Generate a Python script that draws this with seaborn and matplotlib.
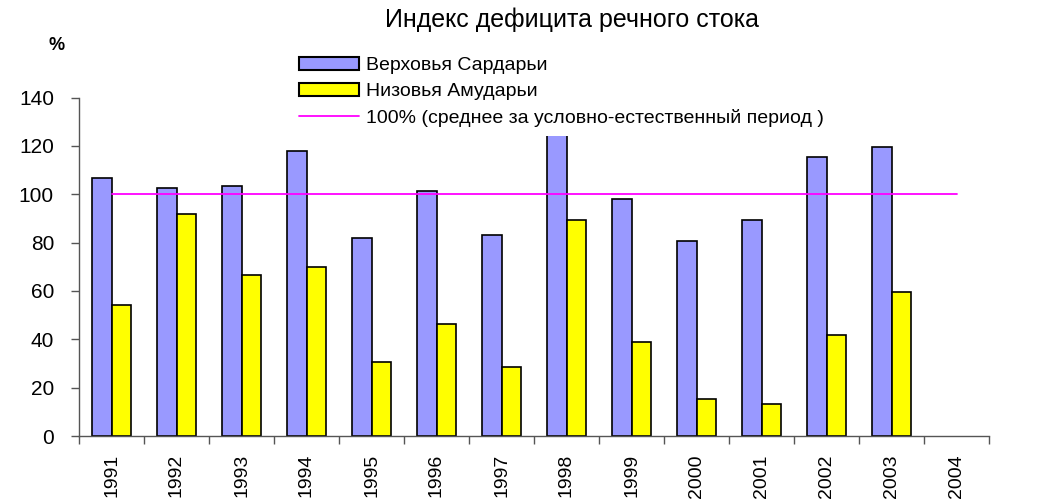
import numpy as np
import pandas as pd
import matplotlib
matplotlib.use("Agg")
import matplotlib.pyplot as plt
from matplotlib.patches import Patch
from matplotlib.lines import Line2D
from matplotlib.ticker import FixedLocator
import seaborn as sns

years = ["1991", "1992", "1993", "1994", "1995", "1996", "1997",
         "1998", "1999", "2000", "2001", "2002", "2003", "2004"]
syr_upper = [106.9, 102.7, 103.4, 118.0, 81.9, 101.4, 83.3,
             135.0, 97.9, 80.5, 89.5, 115.3, 119.4, np.nan]
amu_lower = [54.1, 91.7, 66.6, 70.0, 30.5, 46.5, 28.4,
             89.5, 38.9, 15.2, 13.2, 41.7, 59.7, np.nan]
norm_line = [100] * 14
series_names = ["Верховья Сардарьи", "Низовья Амударьи"]
line_name = "100% (среднее за условно-естественный период )"
title = "Индекс дефицита речного стока"
yticks = [0, 20, 40, 60, 80, 100, 120, 140]

sns.set_theme(style="white")
plt.rcParams["font.family"] = ["Liberation Sans", "DejaVu Sans"]
plt.rcParams["text.color"] = "black"
plt.rcParams["xtick.labelcolor"] = "black"
plt.rcParams["ytick.labelcolor"] = "black"

df = pd.DataFrame({
    "year": years * 2,
    "value": syr_upper + amu_lower,
    "series": [series_names[0]] * len(years) + [series_names[1]] * len(years),
})

colors = ["#9999FF", "#FFFF00"]

fig = plt.figure(figsize=(10.41, 4.99), dpi=100)
ax = fig.add_axes([79 / 1041, 1 - 436 / 499, (989 - 79) / 1041, (436 - 97.6) / 499])

sns.barplot(data=df, x="year", y="value", hue="series", order=years,
            hue_order=series_names, palette=colors, width=0.6,
            edgecolor="black", linewidth=1.2, saturation=1, ax=ax,
            legend=False, errorbar=None)

ax.plot(np.arange(len(years)), norm_line, color="#FF00FF", lw=1.3, zorder=4)

ax.set_xlim(-0.5, len(years) - 0.5)
ax.set_ylim(0, 140)
ax.set_yticks(yticks)
ax.set_yticklabels([str(v) for v in yticks], fontsize=15, color="black")
ax.set_xticks(np.arange(len(years)))
ax.set_xticklabels(years, rotation=90, fontsize=14, color="black")
ax.xaxis.set_minor_locator(FixedLocator(np.arange(len(years) + 1) - 0.5))
ax.tick_params(axis="x", which="major", length=0, pad=13)
ax.tick_params(axis="x", which="minor", length=6, width=1, color="#555555", direction="out", bottom=True)
ax.tick_params(axis="y", which="major", length=6, width=1, color="#555555", direction="out", left=True, pad=12)
ax.set_xlabel("")
ax.set_ylabel("")
for s in ["top", "right"]:
    ax.spines[s].set_visible(False)
for s in ["left", "bottom"]:
    ax.spines[s].set_color("#555555")
    ax.spines[s].set_linewidth(1)

fig.text(572 / 1041, 1 - 20 / 499, title, ha="center", va="center", fontsize=18, color="black")
fig.text(57 / 1041, 1 - 45 / 499, "%", ha="center", va="center", fontsize=13, fontweight="bold", color="black")

handles = [Patch(facecolor=colors[0], edgecolor="black", linewidth=1.5),
           Patch(facecolor=colors[1], edgecolor="black", linewidth=1.5),
           Line2D([0], [0], color="#FF00FF", lw=1.3)]
leg = ax.legend(handles, series_names + [line_name], loc="upper left",
                bbox_to_anchor=(290 / 1041, 1 - 48 / 499), bbox_transform=fig.transFigure,
                fontsize=14, frameon=True, facecolor="white", edgecolor="none",
                framealpha=1, fancybox=False, borderpad=0.45, borderaxespad=0,
                handlelength=3.1, handleheight=0.65, handletextpad=0.35,
                labelspacing=0.45)
for t in leg.get_texts():
    t.set_color("black")
leg.set_zorder(10)

fig.savefig("out.png", dpi=100)
